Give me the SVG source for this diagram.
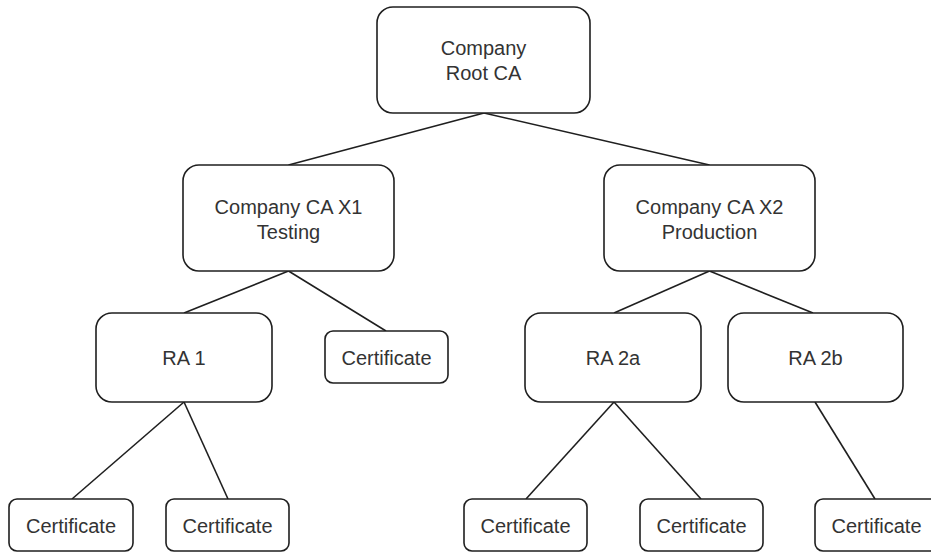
<svg xmlns="http://www.w3.org/2000/svg" width="931" height="552" viewBox="0 0 931 552">
  <style>
    .box { fill: #ffffff; stroke: #1f1f1f; stroke-width: 1.6; }
    .edge { fill: none; stroke: #1f1f1f; stroke-width: 1.6; }
    .lbl { font-family: "Liberation Sans", Arial, sans-serif; font-size: 20px; fill: #333333; text-anchor: middle; }
  </style>
  <rect width="931" height="552" fill="#ffffff"/>

  <!-- connectors -->
  <g id="connectors">
    <line class="edge" x1="484" y1="113" x2="288.5" y2="165"/>
    <line class="edge" x1="484" y1="113" x2="709.5" y2="165"/>
    <line class="edge" x1="288.5" y1="271" x2="184" y2="313"/>
    <line class="edge" x1="288.5" y1="271" x2="386" y2="331"/>
    <line class="edge" x1="709.5" y1="271" x2="614" y2="313"/>
    <line class="edge" x1="709.5" y1="271" x2="813" y2="313"/>
    <line class="edge" x1="184" y1="402" x2="72" y2="499"/>
    <line class="edge" x1="184" y1="402" x2="228" y2="499"/>
    <line class="edge" x1="614" y1="402" x2="526" y2="499"/>
    <line class="edge" x1="614" y1="402" x2="701" y2="499"/>
    <line class="edge" x1="815" y1="402" x2="875" y2="499"/>
  </g>

  <!-- nodes -->
  <g id="root-ca">
    <rect class="box" x="377" y="7" width="213" height="106" rx="16"/>
    <text class="lbl" x="483.5" y="55">Company</text>
    <text class="lbl" x="483.5" y="80">Root CA</text>
  </g>
  <g id="ca-x1">
    <rect class="box" x="183" y="165" width="211" height="106" rx="16"/>
    <text class="lbl" x="288.5" y="214">Company CA X1</text>
    <text class="lbl" x="288.5" y="239">Testing</text>
  </g>
  <g id="ca-x2">
    <rect class="box" x="604" y="165" width="211" height="106" rx="16"/>
    <text class="lbl" x="709.5" y="214">Company CA X2</text>
    <text class="lbl" x="709.5" y="239">Production</text>
  </g>
  <g id="ra-1">
    <rect class="box" x="96" y="313" width="176" height="89" rx="16"/>
    <text class="lbl" x="184" y="365">RA 1</text>
  </g>
  <g id="cert-x1">
    <rect class="box" x="325" y="331" width="123" height="52" rx="8"/>
    <text class="lbl" x="386.5" y="365">Certificate</text>
  </g>
  <g id="ra-2a">
    <rect class="box" x="525" y="313" width="176" height="89" rx="16"/>
    <text class="lbl" x="613" y="365">RA 2a</text>
  </g>
  <g id="ra-2b">
    <rect class="box" x="728" y="313" width="175" height="89" rx="16"/>
    <text class="lbl" x="815.5" y="365">RA 2b</text>
  </g>
  <g id="cert-ra1-a">
    <rect class="box" x="9" y="499" width="124" height="52" rx="8"/>
    <text class="lbl" x="71" y="533">Certificate</text>
  </g>
  <g id="cert-ra1-b">
    <rect class="box" x="166" y="499" width="123" height="52" rx="8"/>
    <text class="lbl" x="227.5" y="533">Certificate</text>
  </g>
  <g id="cert-ra2a-a">
    <rect class="box" x="464" y="499" width="123" height="52" rx="8"/>
    <text class="lbl" x="525.5" y="533">Certificate</text>
  </g>
  <g id="cert-ra2a-b">
    <rect class="box" x="640" y="499" width="123" height="52" rx="8"/>
    <text class="lbl" x="701.5" y="533">Certificate</text>
  </g>
  <g id="cert-ra2b">
    <rect class="box" x="815" y="499" width="123" height="52" rx="8"/>
    <text class="lbl" x="876.5" y="533">Certificate</text>
  </g>
</svg>
